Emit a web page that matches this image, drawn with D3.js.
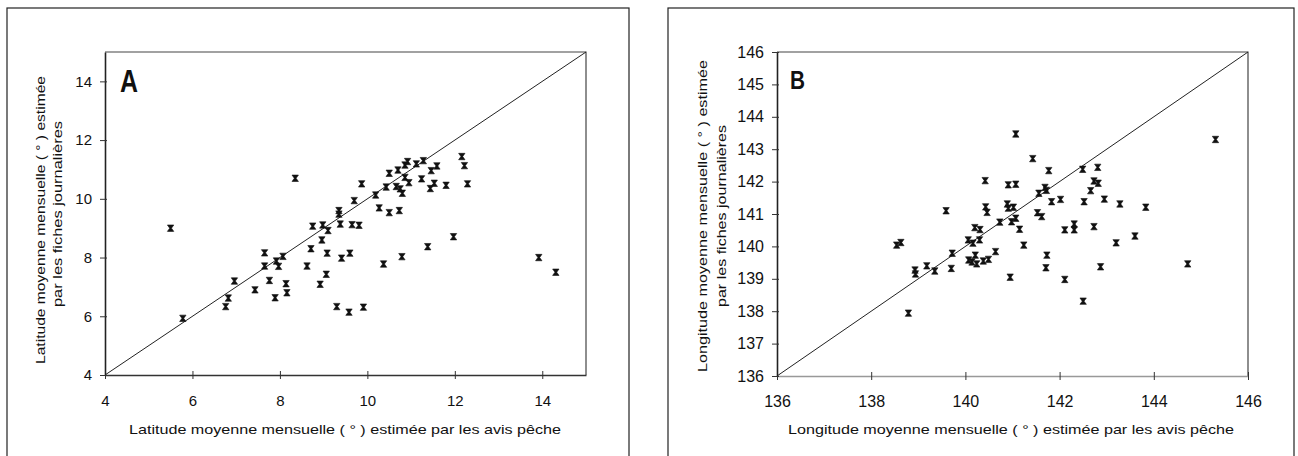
<!DOCTYPE html>
<html>
<head>
<meta charset="utf-8">
<script src="https://d3js.org/d3.v7.min.js"></script>
<style>
  body { margin: 0; background: #fff; }
  text { font-family: "Liberation Sans", Arial, sans-serif; fill: #111; }
</style>
</head>
<body>
<svg id="vis"></svg>

<script>
  // Data: panel A (latitude), avis pêche (x) vs fiches journalières (y)
  var latAvis = [5.5, 5.78, 6.76, 6.82, 6.96, 7.43, 7.65, 7.65, 7.76, 7.89, 7.92, 7.97, 8.07, 8.14, 8.16, 8.35, 8.62,
    8.71, 8.75, 8.98, 9.1, 8.96, 9.08, 8.92, 9.06, 9.3, 9.58, 9.91, 9.41, 9.6, 9.35, 9.35, 9.38, 9.65, 9.81, 9.7,
    9.87, 10.19, 10.27, 10.5, 10.73, 10.43, 10.66, 10.75, 10.8, 10.5, 10.7, 10.86, 10.92, 11.12, 11.28, 10.86,
    10.95, 11.24, 11.44, 11.46, 11.53, 11.59, 11.8, 12.16, 12.22, 12.29, 10.37, 10.79, 11.38, 11.97, 13.92, 14.31];
  var latFiches = [9.0, 5.93, 6.33, 6.62, 7.2, 6.9, 8.16, 7.71, 7.22, 6.63, 7.88, 7.7, 8.04, 7.11, 6.8, 10.7, 7.71,
    8.3, 9.07, 9.11, 8.92, 8.6, 8.15, 7.09, 7.43, 6.33, 6.14, 6.31, 7.98, 8.15, 9.6, 9.48, 9.14, 9.12, 9.1, 9.94,
    10.51, 10.13, 9.69, 9.53, 9.6, 10.4, 10.42, 10.34, 10.19, 10.87, 10.98, 11.15, 11.27, 11.19, 11.3, 10.73,
    10.55, 10.68, 10.35, 10.96, 10.53, 11.12, 10.46, 11.44, 11.13, 10.51, 7.78, 8.03, 8.37, 8.71, 8.0, 7.5];

  // Data: panel B (longitude)
  var lonAvis = [138.54, 138.63, 138.79, 138.93, 138.94, 139.18, 139.35, 139.7, 139.72, 139.59, 140.06, 140.16,
    140.2, 140.31, 140.3, 140.07, 140.14, 140.21, 140.24, 140.38, 140.49, 140.64, 140.42, 140.43, 140.46, 140.73,
    140.89, 140.91, 141.02, 140.91, 141.07, 141.07, 140.98, 141.07, 141.15, 141.24, 140.95, 141.43, 141.53,
    141.62, 141.56, 141.69, 141.72, 141.77, 141.83, 141.73, 141.71, 142.02, 142.11, 142.31, 142.31, 142.11,
    142.5, 142.49, 142.52, 142.66, 142.73, 142.82, 142.81, 142.73, 142.87, 142.95, 143.2, 143.28, 143.6, 143.83,
    144.72, 145.31];
  var lonFiches = [140.04, 140.12, 137.94, 139.27, 139.15, 139.4, 139.24, 139.32, 139.79, 141.1, 140.2, 140.1,
    140.58, 140.52, 140.2, 139.58, 139.52, 139.73, 139.46, 139.55, 139.6, 139.84, 142.03, 141.22, 141.05, 140.75,
    141.31, 141.18, 141.21, 141.9, 141.92, 143.47, 140.76, 140.87, 140.53, 140.04, 139.05, 142.71, 141.04,
    140.92, 141.64, 141.82, 141.73, 142.34, 141.38, 139.73, 139.34, 141.45, 140.51, 140.69, 140.51, 138.98,
    138.31, 142.38, 141.38, 141.72, 142.02, 141.95, 142.44, 140.61, 139.37, 141.46, 140.11, 141.31, 140.32,
    141.21, 139.46, 143.3];

  var latTicksX = [4, 6, 8, 10, 12, 14];
  var latTicksY = [4, 6, 8, 10, 12, 14];
  var lonTicks = [136, 138, 140, 142, 144, 146];
  var lonTicksY = [136, 137, 138, 139, 140, 141, 142, 143, 144, 145, 146];

  var svg = d3.select('#vis')
    .attr('width', 1298)
    .attr('height', 456)

  var panels = [
    {
      letter: 'A', xs: latAvis, ys: latFiches, domain: [4, 15],
      xTicks: latTicksX, yTicks: latTicksY,
      frame: [7, 8, 629, 470], plot: [105, 52, 586, 375],
      xTitle: 'Latitude moyenne mensuelle ( ° ) estimée par les avis pêche', xTitleLen: 432, xTitleX: 345,
      yTitle1: 'Latitude moyenne mensuelle ( ° ) estimée', yTitle2: 'par les fiches journalières',
      yT1: [40, 220, 288], yT2: [57, 214, 186],
      tickFont: 15, letterSize: 31, letterLen: 18, letterPos: [120, 92], xAxisColor: '#333'
    },
    {
      letter: 'B', xs: lonAvis, ys: lonFiches, domain: [136, 146],
      xTicks: lonTicks, yTicks: lonTicksY,
      frame: [668, 8, 1294, 470], plot: [777, 52, 1248, 376],
      xTitle: 'Longitude moyenne mensuelle ( ° ) estimée par les avis pêche', xTitleLen: 446, xTitleX: 1011,
      yTitle1: 'Longitude moyenne mensuelle ( ° ) estimée', yTitle2: 'par les fiches journalières',
      yT1: [702, 216, 312], yT2: [721, 216, 182],
      tickFont: 16, letterSize: 26, letterLen: 15, letterPos: [790, 89], xAxisColor: '#999'
    }
  ]

  // small bold "x" marker, hourglass like the original
  var marker = 'M-3.2,-3.2L3.2,-3.2L0.9,0L3.2,3.2L-3.2,3.2L-0.9,0Z'

  panels.forEach(function(p) {
    var g = svg.append('g')

    // outer frame
    g.append('rect')
      .attr('x', p.frame[0]).attr('y', p.frame[1])
      .attr('width', p.frame[2] - p.frame[0]).attr('height', p.frame[3] - p.frame[1])
      .attr('fill', 'none').attr('stroke', '#222').attr('stroke-width', 1.2)

    var x = d3.scaleLinear().domain(p.domain).range([p.plot[0], p.plot[2]])
    var y = d3.scaleLinear().domain(p.domain).range([p.plot[3], p.plot[1]])

    // top and right border of the plot area
    g.append('path')
      .attr('d', 'M' + x(p.domain[0]) + ',' + y(p.domain[1]) + 'H' + x(p.domain[1]) + 'V' + y(p.domain[0]))
      .attr('fill', 'none').attr('stroke', '#444').attr('stroke-width', 1.2)

    // axes
    var xAxis = g.append('g')
      .attr('transform', 'translate(0,' + y(p.domain[0]) + ')')
      .call(d3.axisBottom(x).tickValues(p.xTicks).tickSize(4).tickPadding(16).tickSizeOuter(0))
    xAxis.select('.domain').attr('stroke', p.xAxisColor).attr('stroke-width', 1.6)
    xAxis.selectAll('.tick line').attr('y1', -4).attr('y2', 4).attr('stroke', '#333')
    xAxis.selectAll('text').attr('font-size', p.tickFont).attr('font-family', 'Liberation Sans').attr('fill', '#111')

    var yAxis = g.append('g')
      .attr('transform', 'translate(' + x(p.domain[0]) + ',0)')
      .call(d3.axisLeft(y).tickValues(p.yTicks).tickSize(5).tickPadding(8).tickSizeOuter(0))
    yAxis.select('.domain').attr('stroke', '#222').attr('stroke-width', 1.6)
    yAxis.selectAll('.tick line').attr('x2', 2).attr('x1', -5).attr('stroke', '#333')
    yAxis.selectAll('text').attr('font-size', p.tickFont).attr('font-family', 'Liberation Sans').attr('fill', '#111')

    // 1:1 line
    g.append('line')
      .attr('x1', x(p.domain[0])).attr('y1', y(p.domain[0]))
      .attr('x2', x(p.domain[1])).attr('y2', y(p.domain[1]))
      .attr('stroke', '#222').attr('stroke-width', 1)

    // points
    g.selectAll('path.pt')
      .data(p.xs)
      .enter().append('path')
      .attr('class', 'pt')
      .attr('d', marker)
      .attr('transform', function(d, i) { return 'translate(' + x(d) + ',' + y(p.ys[i]) + ')' })
      .attr('fill', '#111')
      .attr('stroke', '#111')
      .attr('stroke-width', 0.6)

    // panel letter
    g.append('text')
      .attr('x', p.letterPos[0]).attr('y', p.letterPos[1])
      .attr('font-size', p.letterSize).attr('font-weight', 'bold')
      .attr('textLength', p.letterLen).attr('lengthAdjust', 'spacingAndGlyphs')
      .text(p.letter)

    // axis titles
    g.append('text')
      .attr('x', p.xTitleX).attr('y', 434)
      .attr('text-anchor', 'middle').attr('font-size', 13)
      .attr('textLength', p.xTitleLen).attr('lengthAdjust', 'spacingAndGlyphs')
      .text(p.xTitle)

    ;[[p.yTitle1, p.yT1], [p.yTitle2, p.yT2]].forEach(function(t) {
      g.append('text')
        .attr('transform', 'translate(' + t[1][0] + ',' + t[1][1] + ') rotate(-90)')
        .attr('text-anchor', 'middle').attr('dy', '0.35em').attr('font-size', 13)
        .attr('textLength', t[1][2]).attr('lengthAdjust', 'spacingAndGlyphs')
        .text(t[0])
    })
  })
</script>
</body>
</html>
